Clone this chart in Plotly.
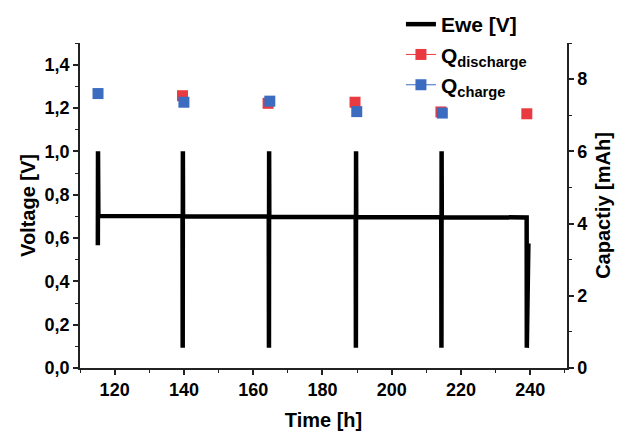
import plotly.graph_objects as go

# Ewe (left axis)
ewe_time = [115.15, 115.2, 115.3, 139.6, 139.65, 139.7, 139.75, 164.5, 164.55, 164.6, 164.65,
            189.6, 189.65, 189.7, 189.75, 214.3, 214.35, 214.4, 214.45, 238.95, 239.0, 239.45]
ewe_volt = [0.567, 1.0, 0.702, 0.701, 0.093, 1.0, 0.700, 0.699, 0.093, 1.0, 0.698,
            0.697, 0.093, 1.0, 0.697, 0.696, 0.093, 1.0, 0.696, 0.695, 0.093, 0.575]

# Capacities (right axis)
q_dis_time = [139.6, 164.3, 189.4, 214.2, 239.0]
q_dis = [7.54, 7.33, 7.36, 7.09, 7.04]
q_ch_time = [115.2, 140.0, 164.8, 189.9, 214.6]
q_ch = [7.60, 7.36, 7.39, 7.10, 7.06]

RED = "#E83A40"
BLUE = "#3B6CC0"
FONT = "Liberation Sans, Arial, sans-serif"

fig = go.Figure()
fig.add_trace(go.Scatter(x=ewe_time, y=ewe_volt, mode="lines", name="Ewe [V]",
                         line=dict(color="black", width=4.5), yaxis="y"))
fig.add_trace(go.Scatter(x=q_dis_time, y=q_dis, mode="markers", showlegend=False,
                         marker=dict(symbol="square", size=11, color=RED), yaxis="y2"))
fig.add_trace(go.Scatter(x=q_ch_time, y=q_ch, mode="markers", showlegend=False,
                         marker=dict(symbol="square", size=11, color=BLUE), yaxis="y2"))
# legend entries
fig.add_trace(go.Scatter(x=[None], y=[None], mode="lines+markers", name="Q<sub>discharge</sub>",
                         line=dict(color=RED, width=1), marker=dict(symbol="square", size=11, color=RED),
                         yaxis="y2"))
fig.add_trace(go.Scatter(x=[None], y=[None], mode="lines+markers", name="Q<sub>charge</sub>",
                         line=dict(color=BLUE, width=1), marker=dict(symbol="square", size=11, color=BLUE),
                         yaxis="y2"))


def axis_common():
    return dict(showline=True, linecolor="#222", linewidth=1.5, ticks="outside", ticklen=5,
                tickwidth=1.5, tickcolor="#222", showgrid=False, zeroline=False, automargin=False,
                tickfont=dict(family=FONT, size=18, color="black", weight="bold"))


fig.update_layout(
    width=619, height=436,
    margin=dict(l=80, r=52, t=43, b=68, autoexpand=False),
    paper_bgcolor="white", plot_bgcolor="white",
    separators=",.",
    font=dict(family=FONT, color="black"),
    xaxis=dict(range=[110, 250.6], dtick=20, tick0=0,
               title=dict(text="Time [h]", font=dict(family=FONT, size=20, weight="bold"), standoff=14),
               minor=dict(dtick=10, ticks="outside", ticklen=3, tickwidth=1.2, tickcolor="#222", showgrid=False),
               **axis_common()),
    yaxis=dict(range=[0, 1.5], dtick=0.2, tick0=0, tickformat=".1f",
               title=dict(text="Voltage [V]", font=dict(family=FONT, size=20, weight="bold"), standoff=4),
               minor=dict(dtick=0.1, ticks="outside", ticklen=3, tickwidth=1.2, tickcolor="#222", showgrid=False),
               **axis_common()),
    yaxis2=dict(range=[0, 9], dtick=2, tick0=0, overlaying="y", side="right",
                title=dict(text="Capactiy [mAh]", font=dict(family=FONT, size=20, weight="bold"), standoff=10),
                minor=dict(dtick=1, ticks="outside", ticklen=3, tickwidth=1.2, tickcolor="#222", showgrid=False),
                **axis_common()),
    legend=dict(x=0.659, xanchor="left", y=1.12, yanchor="top", bgcolor="rgba(0,0,0,0)",
                font=dict(family=FONT, size=21, color="black", weight="bold"),
                tracegroupgap=0),
    showlegend=True,
)

fig.write_html("out.html", config={"displayModeBar": False},
               post_script="document.body.style.margin='0';document.body.style.overflow='hidden';")
